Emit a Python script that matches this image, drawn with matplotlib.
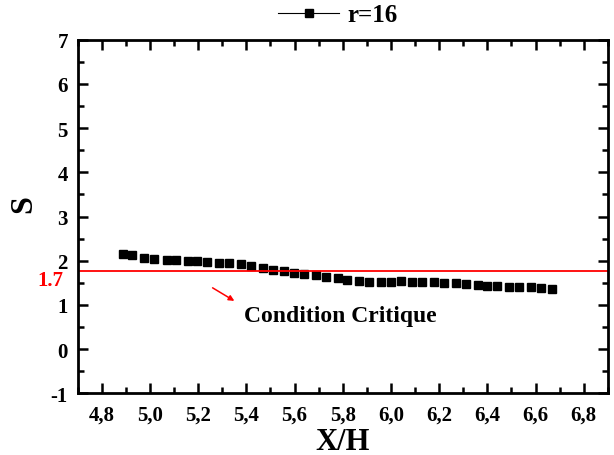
import matplotlib.pyplot as plt
from matplotlib.lines import Line2D
from matplotlib.ticker import MultipleLocator, FuncFormatter
import matplotlib.transforms as mtransforms

plt.rcParams['font.family'] = ['Liberation Serif', 'DejaVu Serif']
plt.rcParams['font.weight'] = 'bold'

# data
xh = [4.887, 4.927, 4.977, 5.018, 5.070, 5.108, 5.158, 5.197, 5.238, 5.286,
      5.328, 5.379, 5.419, 5.469, 5.509, 5.557, 5.599, 5.639, 5.689, 5.730,
      5.779, 5.819, 5.869, 5.910, 5.959, 5.999, 6.042, 6.089, 6.130, 6.180,
      6.220, 6.270, 6.310, 6.360, 6.400, 6.441, 6.490, 6.531, 6.580, 6.621,
      6.669]
s = [2.16, 2.12, 2.07, 2.03, 2.02, 2.01, 2.00, 1.99, 1.98, 1.96,
     1.95, 1.92, 1.87, 1.84, 1.80, 1.77, 1.73, 1.71, 1.67, 1.64,
     1.60, 1.57, 1.54, 1.53, 1.53, 1.53, 1.54, 1.52, 1.52, 1.51,
     1.50, 1.49, 1.47, 1.45, 1.43, 1.43, 1.41, 1.40, 1.40, 1.39,
     1.37]
s_crit = 1.77
series_label = 'r=16'

fig = plt.figure(figsize=(6.14, 4.56), dpi=100)
ax = fig.add_axes([0.1265, 0.135, 0.8635, 0.776])

ax.plot(xh, s, ls='none', marker='s', ms=6, color='black')
ax.axhline(s_crit, color='red', lw=1.3)

ax.set_xlim(4.7, 6.9)
ax.set_ylim(-1, 7)
ax.xaxis.set_major_locator(MultipleLocator(0.2))
ax.xaxis.set_minor_locator(MultipleLocator(0.1))
ax.yaxis.set_major_locator(MultipleLocator(1))
ax.yaxis.set_minor_locator(MultipleLocator(0.5))
ax.xaxis.set_major_formatter(FuncFormatter(lambda v, p: f'{v:.1f}'.replace('.', ',')))
ax.yaxis.set_major_formatter(FuncFormatter(lambda v, p: f'{v:.0f}'))

ax.tick_params(which='both', direction='in', top=True, right=True, width=1.8, labelsize=15)
ax.tick_params(which='major', length=7)
ax.tick_params(which='minor', length=4)
ax.tick_params(axis='x', pad=8)
ax.tick_params(axis='y', pad=7)
for sp in ax.spines.values():
    sp.set_linewidth(2)

ax.set_xlabel('X/H', fontsize=22, fontweight='bold')
ax.xaxis.set_label_coords(0.5, -0.095)
ax.set_ylabel('S', fontsize=23, fontweight='bold')
ax.yaxis.set_label_coords(-0.075, 0.538)

trans = mtransforms.blended_transform_factory(ax.transAxes, ax.transData)
ax.text(-0.027, 1.56, '1.7', transform=trans, color='red', fontsize=15,
        fontweight='bold', ha='right', va='center')

ax.annotate('', xy=(5.36, 1.06), xytext=(5.25, 1.42),
            arrowprops=dict(arrowstyle='-|>', color='red', lw=1.1, mutation_scale=8))
ax.text(5.79, 0.77, 'Condition Critique', fontsize=17, fontweight='bold',
        ha='center', va='center')

handle = Line2D([], [], color='black', lw=0.8, marker='s', ms=6)
fig.legend([handle], [series_label], loc='center', bbox_to_anchor=(0.55, 0.965),
           frameon=False, fontsize=18, handlelength=2.45, handletextpad=0.3)

fig.savefig('out.png', dpi=100)
